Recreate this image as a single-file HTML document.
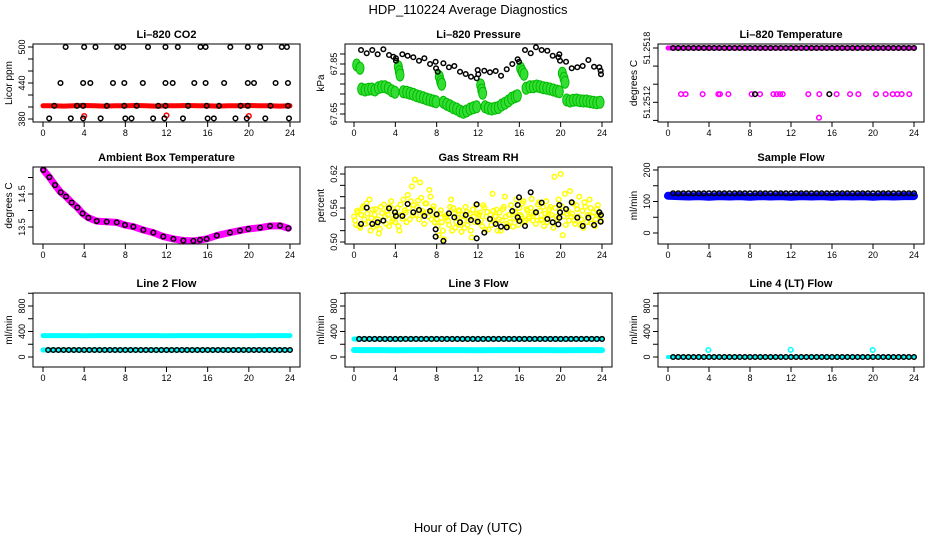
<!DOCTYPE html>
<html><head><meta charset="utf-8"><title>HDP_110224 Average Diagnostics</title>
<style>
html,body{margin:0;padding:0;background:#fff;}
svg{display:block;font-family:"Liberation Sans",Arial,sans-serif;}
</style></head>
<body>
<svg id="chart" width="936" height="540" viewBox="0 0 936 540" xmlns="http://www.w3.org/2000/svg">
<rect x="0" y="0" width="936" height="540" fill="#fff"/>
<text x="468" y="14" font-size="13" text-anchor="middle">HDP_110224  Average Diagnostics</text>
<text x="468" y="532" font-size="13" text-anchor="middle">Hour of Day (UTC)</text>
</svg>
<script>
// ---------- data ----------
const xTicks=[0,4,8,12,16,20,24];
const halfHours=[0.5,1,1.5,2,2.5,3,3.5,4,4.5,5,5.5,6,6.5,7,7.5,8,8.5,9,9.5,10,10.5,11,11.5,12,12.5,13,13.5,14,14.5,15,15.5,16,16.5,17,17.5,18,18.5,19,19.5,20,20.5,21,21.5,22,22.5,23,23.5,24];
const hours=[0,1,2,3,4,5,6,7,8,9,10,11,12,13,14,15,16,17,18,19,20,21,22,23,24];

// CO2
const co2RedBand=[402,402,401.5,402,402.5,402,401.5,402,402,402.5,402,401.5,402,402,402.5,402,402,401.5,402,402,402.5,402,402,401.5,402];
const co2RedOutHours=[4,12,20];
const co2RedOutValues=[385,386,385];
const co2BlackHours=[2.2,4.0,5.1,7.2,7.8,10.2,11.9,13.1,15.3,15.8,18.2,19.9,21.1,23.2,23.7,1.7,3.9,4.6,6.8,7.9,9.7,11.9,12.6,14.7,15.8,17.6,19.9,20.5,22.6,23.8,1.1,3.3,3.9,6.2,7.9,9.1,11.2,11.9,14.1,15.9,17.1,19.2,19.9,22.1,23.8,0.6,2.7,3.9,5.6,8.0,8.6,10.7,11.8,13.6,16.0,16.6,18.7,19.8,21.6,23.9];
const co2BlackValues=[500,500,500,500,500,500,500,500,500,500,500,500,500,500,500,440,440,440,440,440,440,440,440,440,440,440,440,440,440,440,402,402,402,402,402,402,402,402,402,402,402,402,402,402,402,381,381,381,381,381,381,381,381,381,381,381,381,381,381,381];

// Pressure
const presBlackHours=[0.68,1.23,1.77,2.29,2.84,3.39,3.81,4.06,4.06,4.68,5.19,5.74,6.29,6.81,7.36,7.90,7.94,8.10,8.65,9.19,9.71,10.26,10.81,11.32,11.87,11.97,12.03,12.61,13.16,13.71,14.23,14.78,15.32,15.84,15.97,16.55,17.10,17.61,18.16,18.71,19.23,19.78,19.87,19.94,20.52,21.07,21.61,22.13,22.68,23.23,23.74,23.87,23.90];
const presBlackValues=[67.906,67.893,67.906,67.889,67.909,67.886,67.879,67.873,67.863,67.889,67.883,67.877,67.863,67.873,67.850,67.859,67.833,67.819,67.853,67.837,67.842,67.819,67.810,67.799,67.793,67.826,67.809,67.823,67.817,67.822,67.803,67.829,67.850,67.869,67.859,67.906,67.893,67.917,67.906,67.903,67.883,67.877,67.889,67.863,67.859,67.833,67.837,67.842,67.866,67.839,67.837,67.823,67.809];
const presGreenHours=[0.26,0.58,0.74,1.07,1.39,1.71,2.03,2.36,2.68,3.00,3.32,3.65,3.97,4.29,4.39,4.45,4.77,5.10,5.42,5.74,6.07,6.39,6.71,7.03,7.36,7.68,7.94,8.26,8.39,8.49,8.65,8.97,9.29,9.61,9.94,10.26,10.58,10.90,11.23,11.55,11.87,12.26,12.36,12.45,12.68,13.00,13.32,13.65,13.97,14.29,14.61,14.94,15.26,15.58,15.81,16.13,16.29,16.45,16.65,17.03,17.36,17.68,18.00,18.32,18.65,18.97,19.29,19.61,19.87,20.16,20.32,20.42,20.58,20.90,21.23,21.55,21.87,22.20,22.52,22.84,23.16,23.49,23.81];
const presGreenValues=[67.846,67.833,67.750,67.746,67.749,67.750,67.746,67.755,67.759,67.759,67.753,67.743,67.737,67.839,67.819,67.806,67.739,67.737,67.733,67.729,67.723,67.719,67.715,67.710,67.706,67.702,67.699,67.799,67.779,67.769,67.697,67.689,67.683,67.675,67.670,67.662,67.657,67.662,67.670,67.675,67.679,67.766,67.746,67.733,67.679,67.673,67.670,67.673,67.676,67.686,67.693,67.702,67.713,67.719,67.723,67.833,67.819,67.809,67.753,67.759,67.759,67.762,67.759,67.755,67.753,67.750,67.746,67.742,67.739,67.813,67.793,67.777,67.706,67.702,67.705,67.706,67.703,67.702,67.702,67.699,67.697,67.695,67.697];

// Li-820 temperature
const tempPinkBand=[51.2518,51.2518,51.2518,51.2518,51.2518,51.2518,51.2518,51.2518,51.2518,51.2518,51.2518,51.2518,51.2518,51.2518,51.2518,51.2518,51.2518,51.2518,51.2518,51.2518,51.2518,51.2518,51.2518,51.2518,51.2518];
const tempBlackTop=[51.2518,51.2518,51.2518,51.2518,51.2518,51.2518,51.2518,51.2518,51.2518,51.2518,51.2518,51.2518,51.2518,51.2518,51.2518,51.2518,51.2518,51.2518,51.2518,51.2518,51.2518,51.2518,51.2518,51.2518,51.2518,51.2518,51.2518,51.2518,51.2518,51.2518,51.2518,51.2518,51.2518,51.2518,51.2518,51.2518,51.2518,51.2518,51.2518,51.2518,51.2518,51.2518,51.2518,51.2518,51.2518,51.2518,51.2518,51.2518];
const tempPinkHours=[1.27,1.72,3.38,4.91,5.07,5.89,8.16,8.98,10.28,10.60,10.93,11.19,13.69,14.76,16.45,17.76,18.57,20.29,21.24,21.92,22.37,22.80,23.54,14.73];
const tempPinkValues=[51.25129,51.25129,51.25129,51.25129,51.25129,51.25129,51.25129,51.25129,51.25129,51.25129,51.25129,51.25129,51.25129,51.25129,51.25129,51.25129,51.25129,51.25129,51.25129,51.25129,51.25129,51.25129,51.25129,51.25103];
const tempBlackMidHours=[8.49,15.74];
const tempBlackMidValues=[51.25129,51.25129];

// Ambient box temperature
const ambHours=[0.03,0.62,1.17,1.72,2.24,2.79,3.34,3.85,4.41,5.22,6.19,7.16,7.97,8.78,9.75,10.72,11.69,12.67,13.64,14.61,15.26,15.90,16.88,18.17,19.14,19.95,21.09,22.06,23.03,23.84];
const ambValues=[15.23,15.01,14.77,14.55,14.42,14.24,14.09,13.91,13.78,13.68,13.66,13.64,13.56,13.51,13.41,13.33,13.21,13.14,13.09,13.08,13.11,13.14,13.24,13.33,13.39,13.44,13.48,13.53,13.54,13.46];

// Gas stream RH
const rhYellowA=[.545,.530,.552,.525,.560,.540,.568,.535,.520,.557,.548,.530,.515,.562,.538,.545,.555,.528,.572,.541,.535,.560,.520,.548,.575,.552,.583,.540,.598,.565,.548,.573,.605,.555,.532,.568,.545,.580,.558,.535,.540,.512,.556,.520,.545,.548,.530,.575,.560,.525,.543,.556,.518,.538,.562,.530,.550,.508,.545,.565,.535,.552,.528,.561,.545,.522,.548,.585,.535,.557,.540,.520,.558,.580,.532,.548,.565,.527,.553,.540,.560,.545,.572,.538,.555,.542,.576,.550,.532,.566,.555,.540,.528,.572,.548,.562,.535,.615,.545,.575,.620,.512,.585,.550,.538,.545,.568,.532,.558,.580,.540,.525,.562,.547,.575,.533,.552,.540,.565,.545];
const rhYellowB=[.538,.555,.528,.548,.563,.532,.550,.575,.542,.527,.558,.540,.523,.551,.566,.532,.548,.562,.537,.553,.548,.528,.566,.541,.556,.535,.560,.572,.547,.610,.562,.540,.578,.550,.568,.552,.592,.540,.563,.548,.528,.550,.535,.505,.543,.538,.562,.520,.550,.535,.555,.530,.548,.525,.553,.542,.520,.557,.535,.550,.548,.538,.565,.522,.553,.540,.530,.555,.545,.520,.552,.538,.562,.545,.528,.535,.553,.542,.575,.530,.548,.568,.535,.558,.545,.560,.538,.552,.545,.570,.538,.562,.550,.535,.558,.548,.525,.560,.540,.552,.563,.545,.530,.555,.590,.550,.538,.565,.545,.530,.555,.570,.535,.548,.560,.545,.528,.558,.550,.538];
const rhBlackHours=[0.68,1.23,1.77,2.29,2.84,3.39,3.97,4.06,4.68,5.19,5.74,6.29,6.81,7.36,7.90,7.90,8.00,8.65,9.19,9.71,10.26,10.81,11.32,11.87,11.87,11.97,12.61,13.16,13.71,14.23,14.78,15.32,15.84,15.84,15.97,16.00,16.55,17.10,17.61,18.16,18.71,19.23,19.78,19.87,19.87,19.94,20.52,21.07,21.61,22.13,22.68,23.23,23.74,23.87,23.90];
const rhBlackValues=[.5318,.5606,.5318,.5347,.5377,.5594,.5524,.5459,.5459,.5671,.5524,.5565,.5459,.5547,.5224,.5094,.5488,.5018,.5506,.5435,.5347,.5477,.5388,.5665,.5065,.5359,.5165,.5406,.5318,.5271,.5259,.5547,.5435,.5653,.5788,.5371,.5283,.5877,.5524,.5694,.5406,.5347,.5312,.5653,.5429,.5524,.5582,.5700,.5429,.5283,.5429,.5300,.5524,.5359,.5477];

// Sample flow
const sampleBlue=[118,117,116,117,115,117,116,117,115,117,116,117,115,117,116,117,115,117,116,117,115,117,116,117,117];
const sampleBlack=[126,126,126,126,126,126,126,126,126,126,126,126,126,126,126,126,126,126,126,126,126,126,126,126,126,126,126,126,126,126,126,126,126,126,126,126,126,126,126,126,126,126,126,126,126,126,126,126];

// Line 2 flow
const line2CyanHigh=[335,335,335,335,332,335,335,335,335,335,335,335,332,335,335,335,335,335,335,335,332,335,335,335,335];
const line2CyanLow=[110,110,110,110,110,110,110,110,110,110,110,110,110,110,110,110,110,110,110,110,110,110,110,110,110];
const line2Black=[110,110,110,110,110,110,110,110,110,110,110,110,110,110,110,110,110,110,110,110,110,110,110,110,110,110,110,110,110,110,110,110,110,110,110,110,110,110,110,110,110,110,110,110,110,110,110,110];

// Line 3 flow
const line3CyanHigh=[283,283,283,283,280,283,283,283,283,283,283,283,280,283,283,283,283,283,283,283,280,283,283,283,283];
const line3CyanLow=[110,108,108,108,106,108,108,108,108,108,108,108,106,108,108,108,108,108,108,108,106,108,108,108,108];
const line3Black=[283,283,283,283,283,283,283,283,283,283,283,283,283,283,283,283,283,283,283,283,283,283,283,283,283,283,283,283,283,283,283,283,283,283,283,283,283,283,283,283,283,283,283,283,283,283,283,283];

// Line 4 (LT) flow
const line4CyanBand=[0,0,0,0,0,0,0,0,0,0,0,0,0,0,0,0,0,0,0,0,0,0,0,0,0];
const line4CyanOutHours=[3.93,11.97,19.97];
const line4CyanOutValues=[110,112,110];
const line4Black=[0,0,0,0,0,0,0,0,0,0,0,0,0,0,0,0,0,0,0,0,0,0,0,0,0,0,0,0,0,0,0,0,0,0,0,0,0,0,0,0,0,0,0,0,0,0,0,0];

// ---------- layout ----------
const COLS=[{l:33,r:300,x0:43,x24:290,ylab:8,tl:21},{l:345,r:612,x0:354,x24:602,ylab:320,tl:333},{l:658,r:924,x0:668,x24:914,ylab:633,tl:646}];
const ROWS=[{t:44,b:122},{t:167,b:244},{t:293,b:367}];
const NS='http://www.w3.org/2000/svg';
const svg=document.getElementById('chart');
function mk(tag,name,attrs,parent){
  const el=document.createElementNS(NS,tag);
  
  
  for(const k in attrs) el.setAttribute(k,attrs[k]);
  (parent||svg).appendChild(el);
  return el;
}
function panel(name,col,row,title,ylab,v1,p1,v2,p2,ticks,labelVals,labelTexts){
  const c=COLS[col], r=ROWS[row];
  const g=mk('g',name+'-panel',{});
  const X=h=>c.x0+(c.x24-c.x0)*h/24;
  const Y=v=>p1+(v-v1)*(p2-p1)/(v2-v1);
  const t=mk('text',name+'-title',{x:(c.l+c.r)/2,y:r.t-6,'font-size':11,'font-weight':'bold','text-anchor':'middle'},g);
  t.textContent=title;
  const yl=mk('text',name+'-y-axis-title',{x:c.ylab+4,y:(r.t+r.b)/2,'font-size':10,'text-anchor':'middle',transform:`rotate(-90 ${c.ylab+4} ${(r.t+r.b)/2})`},g);
  yl.textContent=ylab;
  xTicks.forEach(h=>{
    mk('line','x-tick',{x1:X(h),x2:X(h),y1:r.b,y2:r.b+5,stroke:'#000','stroke-width':1},g);
    const lt=mk('text','x-tick-label',{x:X(h),y:r.b+14,'font-size':9,'text-anchor':'middle'},g);
    lt.textContent=h;
  });
  ticks.forEach(v=>{
    mk('line','y-tick',{x1:c.l-5,x2:c.l,y1:Y(v),y2:Y(v),stroke:'#000','stroke-width':1},g);
  });
  labelVals.forEach((v,i)=>{
    const yy=Y(v);
    const lt=mk('text','y-tick-label',{x:c.tl+4,y:yy,'font-size':9,'text-anchor':'middle',transform:`rotate(-90 ${c.tl+4} ${yy})`},g);
    lt.textContent=labelTexts[i];
  });
  const data=mk('g',name+'-data',{},g);
  mk('rect',name+'-plot-frame',{x:c.l,y:r.t,width:c.r-c.l,height:r.b-r.t,fill:'none',stroke:'#000','stroke-width':1},g);
  return {X,Y,g:data};
}
function pts(P,name,hs,vs,color,r,sw){
  hs.forEach((h,i)=>{
    mk('circle',name,{cx:P.X(h),cy:P.Y(vs[i]),r:r,fill:'none',stroke:color,'stroke-width':sw},P.g);
  });
}
function band(P,name,hs,vs,color,w){
  const d=hs.map((h,i)=>P.X(h).toFixed(1)+','+P.Y(vs[i]).toFixed(1)).join(' ');
  mk('polyline',name,{points:d,fill:'none',stroke:color,'stroke-width':w,'stroke-linecap':'round','stroke-linejoin':'round'},P.g);
}
const BR=2.3, BW=1.5;

// CO2
let P=panel('co2',0,0,'Li\u2013820 CO2','Licor ppm',380,119,500,47,[380,400,420,440,460,480,500],[380,440,500],['380','440','500']);
band(P,'co2-red-band',hours,co2RedBand,'#ff0000',5);
pts(P,'co2-red-outlier',co2RedOutHours,co2RedOutValues,'#ff0000',BR,BW);
pts(P,'co2-black-point',co2BlackHours,co2BlackValues,'#000',BR,BW);

// Pressure
P=panel('pressure',1,0,'Li\u2013820 Pressure','kPa',67.65,114,67.85,64,[67.65,67.69,67.73,67.77,67.81,67.85,67.89],[67.65,67.85],['67.65','67.85']);
presGreenHours.forEach((h,i)=>{
  mk('ellipse','pressure-green-cluster',{cx:P.X(h),cy:P.Y(presGreenValues[i]),rx:4,ry:6,fill:'#33dd33',stroke:'#00bb00','stroke-width':1},P.g);
});
pts(P,'pressure-black-point',presBlackHours,presBlackValues,'#000',BR,BW);

// Temperature
P=panel('li820-temperature',2,0,'Li\u2013820 Temperature','degrees C',51.2518,48,51.2510,120.4,[51.2510,51.2512,51.2514,51.2516,51.2518],[51.2518,51.2512],['51.2518','51.2512']);
band(P,'temp-pink-band',hours,tempPinkBand,'#ff00ff',5);
pts(P,'temp-black-point',halfHours,tempBlackTop,'#000',BR,BW);
pts(P,'temp-pink-point',tempPinkHours,tempPinkValues,'#ff00ff',BR,BW);
pts(P,'temp-black-mid-point',tempBlackMidHours,tempBlackMidValues,'#000',BR,BW);

// Ambient
P=panel('ambient-temperature',0,1,'Ambient Box Temperature','degrees C',13.5,227,14.5,194,[13.5,14.0,14.5,15.0],[13.5,14.5],['13.5','14.5']);
band(P,'ambient-pink-band',ambHours,ambValues,'#ff00ff',7);
pts(P,'ambient-black-point',ambHours,ambValues,'#000',BR,BW);

// RH
P=panel('gas-stream-rh',1,1,'Gas Stream RH','percent',0.50,242,0.62,174,[0.50,0.52,0.54,0.56,0.58,0.60,0.62],[0.50,0.56,0.62],['0.50','0.56','0.62']);
rhYellowA.forEach((v,i)=>{
  mk('circle','rh-yellow-point',{cx:P.X(i*0.2),cy:P.Y(v),r:BR,fill:'none',stroke:'#ffff00','stroke-width':BW},P.g);
});
rhYellowB.forEach((v,i)=>{
  mk('circle','rh-yellow-point',{cx:P.X(i*0.2+0.1),cy:P.Y(v),r:BR,fill:'none',stroke:'#ffff00','stroke-width':BW},P.g);
});
pts(P,'rh-black-point',rhBlackHours,rhBlackValues,'#000',BR,BW);

// Sample flow
P=panel('sample-flow',2,1,'Sample Flow','ml/min',0,233,200,170,[0,50,100,150,200],[0,100,200],['0','100','200']);
band(P,'sample-blue-band',hours,sampleBlue,'#0000ff',8);
pts(P,'sample-black-point',halfHours,sampleBlack,'#000',BR,BW);

// Line 2
P=panel('line2-flow',0,2,'Line 2 Flow','ml/min',0,357,800,306,[0,200,400,600,800,1000],[0,400,800],['0','400','800']);
band(P,'line2-cyan-high-band',hours,line2CyanHigh,'#00ffff',5);
band(P,'line2-cyan-low-band',hours,line2CyanLow,'#00ffff',5);
pts(P,'line2-black-point',halfHours,line2Black,'#000',BR,BW);

// Line 3
P=panel('line3-flow',1,2,'Line 3 Flow','ml/min',0,357,800,306,[0,200,400,600,800,1000],[0,400,800],['0','400','800']);
band(P,'line3-cyan-high-band',hours,line3CyanHigh,'#00ffff',5);
band(P,'line3-cyan-low-band',hours,line3CyanLow,'#00ffff',6);
pts(P,'line3-black-point',halfHours,line3Black,'#000',BR,BW);

// Line 4
P=panel('line4-flow',2,2,'Line 4 (LT) Flow','ml/min',0,357,800,306,[0,200,400,600,800,1000],[0,400,800],['0','400','800']);
band(P,'line4-cyan-band',hours,line4CyanBand,'#00ffff',4);
pts(P,'line4-black-point',halfHours,line4Black,'#000',BR,BW);
pts(P,'line4-cyan-outlier',line4CyanOutHours,line4CyanOutValues,'#00ffff',BR,BW);
</script>
</body></html>
